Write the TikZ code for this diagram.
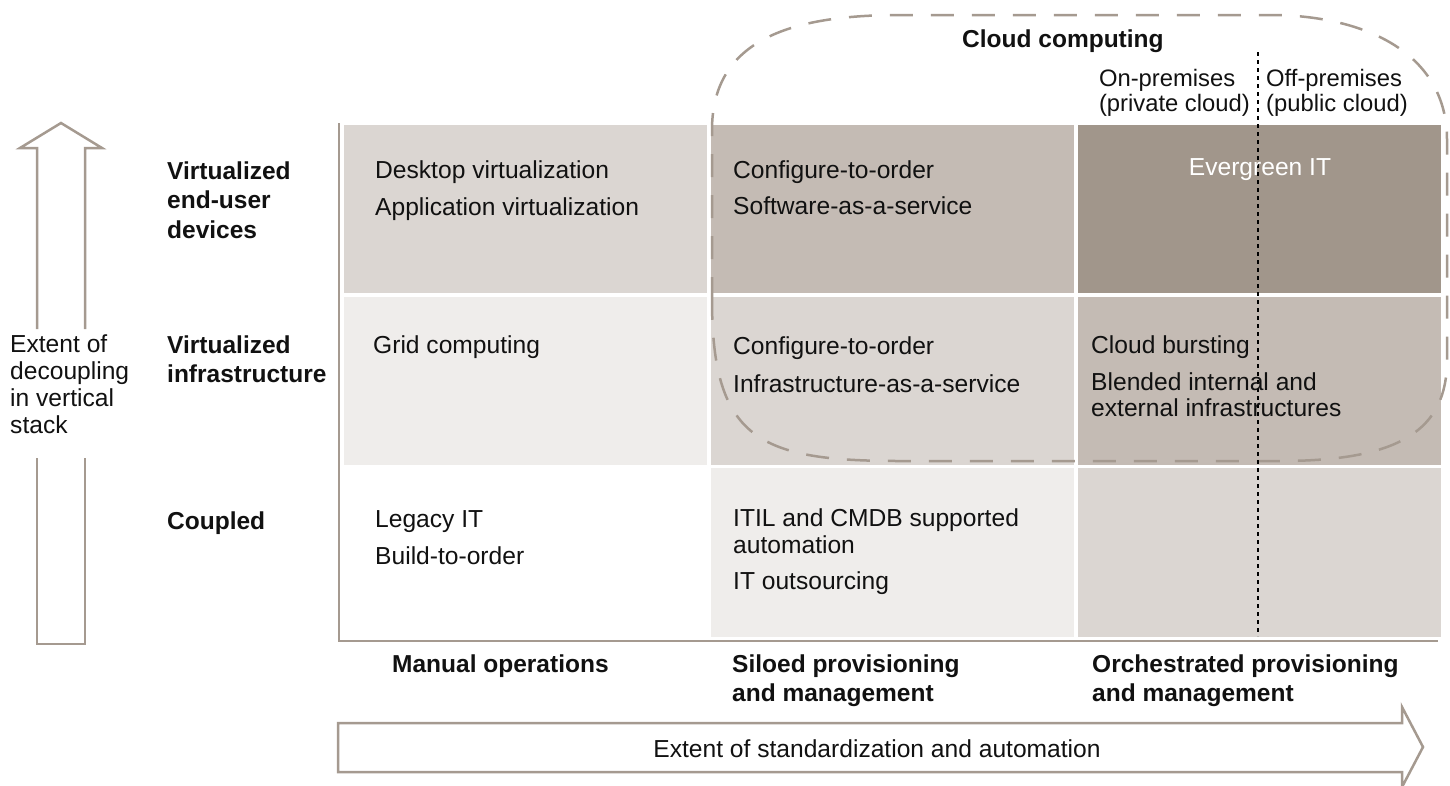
\documentclass[tikz,border=0pt]{standalone}
\usepackage{fontspec}
\setmainfont{Liberation Sans}
\definecolor{cellA}{HTML}{EFEDEB}
\definecolor{cellB}{HTML}{DBD6D2}
\definecolor{cellC}{HTML}{C4BBB4}
\definecolor{cellD}{HTML}{A1968B}
\definecolor{lineC}{HTML}{A59A90}
\definecolor{inkC}{HTML}{111111}
\begin{document}
\begin{tikzpicture}[x=1pt,y=-1pt,
  txt/.style={anchor=base west, inner sep=0pt, align=left, text=inkC, font=\fontsize{24.6}{26.5}\selectfont},
  hdr/.style={anchor=base west, inner sep=0pt, align=left, text=inkC, font=\fontsize{24.5}{29.5}\selectfont\bfseries},
  small/.style={inner sep=0pt, align=left, text=inkC, font=\fontsize{23.8}{25}\selectfont},
  axisline/.style={draw=lineC, line width=2.5pt},
  blockarrow/.style={draw=lineC, line width=2.5pt, line join=miter},
  cloudline/.style={draw=lineC, line width=2.5pt, dash pattern=on 23pt off 18pt},
  divider/.style={draw=black, line width=2.6pt, dash pattern=on 4pt off 4pt}]
\useasboundingbox (0,0) rectangle (1450,785);
% cells
\fill[cellB] (344,125) rectangle (707,293);
\fill[cellC] (711,125) rectangle (1074,293);
\fill[cellD] (1078,125) rectangle (1441,293);
\fill[cellA] (344,297) rectangle (707,465);
\fill[cellB] (711,297) rectangle (1074,465);
\fill[cellC] (1078,297) rectangle (1441,465);
\fill[white] (344,468) rectangle (707,637);
\fill[cellA] (711,468) rectangle (1074,637);
\fill[cellB] (1078,468) rectangle (1441,637);
% axes
\coordinate (ax0) at (339,123);
\coordinate (ax1) at (339,641);
\coordinate (ax2) at (1438,641);
\draw[axisline] (ax0) -- (ax1) -- (ax2);
% cloud outline
\draw[cloudline] (712,300) -- (712,130) .. controls (712,40) and (790,15) .. (900,15)
  -- (1270,15) .. controls (1360,15) and (1447,50) .. (1447,140)
  -- (1447,360) .. controls (1447,430) and (1400,461) .. (1280,461)
  -- (900,461) .. controls (760,461) and (712,440) .. (712,300);
% divider
\coordinate (dv0) at (1258,52);
\coordinate (dv1) at (1258,636);
\draw[divider] (dv0) -- (dv1);
% vertical block arrow
\draw[blockarrow] (37,329) -- (37,148) -- (20,148) -- (61,123) -- (102,148) -- (85,148) -- (85,329);
\draw[blockarrow] (37,458) -- (37,644) -- (85,644) -- (85,458);
% horizontal block arrow
\draw[blockarrow] (338,723) -- (1402,723) -- (1402,707) -- (1423,747) -- (1402,787) -- (1402,772) -- (338,772) -- cycle;
% texts (multi-line nodes: base = baseline of last line)
\node[txt, font=\fontsize{24.6}{26.7}\selectfont] (vl) at (10,433) {Extent of\\decoupling\\in vertical\\stack};
\node[hdr] (h1) at (167,238) {Virtualized\\end-user\\devices};
\node[hdr] (h2) at (167,382.5) {Virtualized\\infrastructure};
\node[hdr] (h3) at (167,529) {Coupled};
\node[txt] (a1) at (375,178) {Desktop virtualization};
\node[txt] (a2) at (375,215) {Application virtualization};
\node[txt] (b1) at (733,178) {Configure-to-order};
\node[txt] (b2) at (733,214) {Software-as-a-service};
\node[txt, anchor=base, text=white] (ev) at (1260,175) {Evergreen IT};
\node[txt] (g1) at (373,353) {Grid computing};
\node[txt] (c1) at (733,354) {Configure-to-order};
\node[txt] (c2) at (733,392) {Infrastructure-as-a-service};
\node[txt] (d1) at (1091,353) {Cloud bursting};
\node[txt] (d2) at (1091,416.5) {Blended internal and\\external infrastructures};
\node[txt] (l1) at (375,527) {Legacy IT};
\node[txt] (l2) at (375,564) {Build-to-order};
\node[txt] (i1) at (733,553) {ITIL and CMDB supported\\automation};
\node[txt] (i2) at (733,589) {IT outsourcing};
\node[hdr] (m1) at (392,672) {Manual operations};
\node[hdr] (m2) at (732,701.5) {Siloed provisioning\\and management};
\node[hdr] (m3) at (1092,701.5) {Orchestrated provisioning\\and management};
\node[hdr] (cc) at (962,47) {Cloud computing};
\node[small, anchor=base east] (onp) at (1250,111) {On-premises\\(private cloud)};
\node[small, anchor=base west] (offp) at (1266,111) {Off-premises\\(public cloud)};
\node[txt, anchor=base] (ha) at (877,757) {Extent of standardization and automation};
\end{tikzpicture}
\end{document}
